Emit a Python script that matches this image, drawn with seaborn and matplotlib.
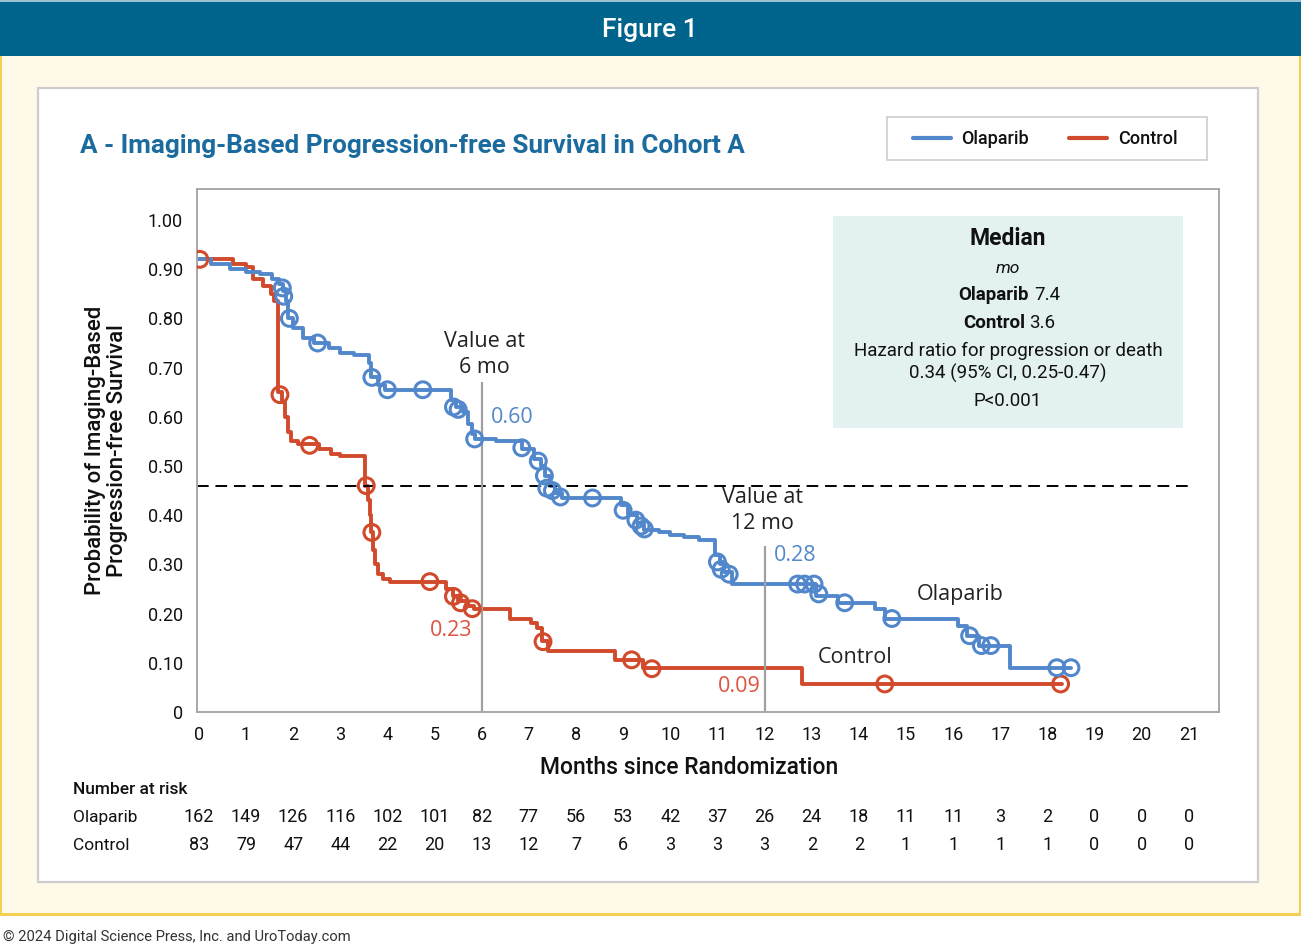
import matplotlib
matplotlib.use('Agg')
import matplotlib.pyplot as plt
import matplotlib.transforms as mtransforms
from matplotlib.patches import Rectangle
from matplotlib.lines import Line2D
import pandas as pd
import seaborn as sns

# ---- data ----
months = list(range(22))
y_ticks = [0, 0.1, 0.2, 0.3, 0.4, 0.5, 0.6, 0.7, 0.8, 0.9, 1.0]
y_tick_labels = ['0', '0.10', '0.20', '0.30', '0.40', '0.50', '0.60', '0.70', '0.80', '0.90', '1.00']

# Kaplan-Meier steps (time, survival after the step)
olaparib_t = [0, 0.25, 0.65, 1.0, 1.3, 1.55, 1.7, 1.78, 1.85, 1.9, 2.0, 2.2, 2.45, 2.75, 3.0, 3.3,
              3.6, 3.65, 3.8, 3.95, 5.35, 5.45, 5.6, 5.7, 5.8, 5.85, 6.3, 6.85, 7.1, 7.25, 7.35,
              7.45, 7.55, 7.7, 8.95, 9.1, 9.3, 9.45, 9.75, 10.0, 10.3, 10.6, 10.95, 11.05, 11.15,
              11.3, 13.1, 13.55, 14.35, 14.55, 16.1, 16.3, 16.55, 17.2, 18.5]
olaparib_s = [0.92, 0.91, 0.90, 0.895, 0.89, 0.88, 0.87, 0.855, 0.835, 0.80, 0.78, 0.76, 0.75, 0.74,
              0.73, 0.725, 0.71, 0.68, 0.665, 0.655, 0.635, 0.62, 0.61, 0.585, 0.565, 0.555, 0.55,
              0.535, 0.515, 0.50, 0.48, 0.46, 0.445, 0.435, 0.42, 0.40, 0.385, 0.37, 0.365, 0.36,
              0.355, 0.35, 0.32, 0.30, 0.285, 0.26, 0.235, 0.222, 0.21, 0.19, 0.175, 0.155, 0.135,
              0.09, 0.09]
olaparib_cens_t = [1.77, 1.80, 1.92, 2.52, 3.67, 4.0, 4.75, 5.4, 5.5, 5.85, 6.85, 7.2, 7.33, 7.38,
                   7.5, 7.67, 8.35, 9.0, 9.27, 9.38, 9.45, 11.0, 11.08, 11.25, 12.7, 12.85, 13.05,
                   13.15, 13.7, 14.7, 16.35, 16.6, 16.8, 18.2, 18.5]
olaparib_cens_s = [0.862, 0.845, 0.80, 0.75, 0.68, 0.655, 0.655, 0.62, 0.615, 0.555, 0.537, 0.51,
                   0.48, 0.455, 0.45, 0.437, 0.435, 0.41, 0.39, 0.378, 0.372, 0.305, 0.29, 0.28,
                   0.26, 0.26, 0.26, 0.24, 0.222, 0.19, 0.155, 0.135, 0.135, 0.09, 0.09]

control_t = [0, 0.72, 1.0, 1.15, 1.35, 1.52, 1.6, 1.68, 1.76, 1.82, 1.88, 1.95, 2.1, 2.55, 2.8,
             3.0, 3.52, 3.58, 3.63, 3.66, 3.7, 3.74, 3.8, 3.9, 4.05, 5.25, 5.4, 5.5, 5.7, 5.83,
             6.6, 7.05, 7.17, 7.28, 7.4, 8.83, 9.42, 12.79, 18.3]
control_s = [0.92, 0.91, 0.905, 0.88, 0.865, 0.85, 0.835, 0.65, 0.63, 0.60, 0.57, 0.55, 0.545,
             0.535, 0.525, 0.52, 0.46, 0.43, 0.40, 0.365, 0.33, 0.30, 0.28, 0.27, 0.265, 0.25,
             0.235, 0.225, 0.215, 0.21, 0.19, 0.18, 0.17, 0.145, 0.124, 0.106, 0.089, 0.057, 0.057]
control_cens_t = [0.02, 1.72, 2.35, 3.55, 3.67, 4.9, 5.4, 5.55, 5.8, 7.3, 9.18, 9.61, 14.55, 18.28]
control_cens_s = [0.92, 0.645, 0.542, 0.46, 0.365, 0.265, 0.235, 0.222, 0.21, 0.143, 0.106,
                  0.088, 0.057, 0.057]

median_line = 0.46
landmarks = [6, 12]
landmark_tops = [0.67, 0.337]

risk_olaparib = [162, 149, 126, 116, 102, 101, 82, 77, 56, 53, 42, 37, 26, 24, 18, 11, 11, 3, 2, 0, 0, 0]
risk_control = [83, 79, 47, 44, 22, 20, 13, 12, 7, 6, 3, 3, 3, 2, 2, 1, 1, 1, 1, 0, 0, 0]

BLUE = '#5288CB'
RED = '#D04A2B'
TITLE_BLUE = '#1B6B9E'

sns.set_style('white')
plt.rcParams['font.family'] = ['Roboto', 'DejaVu Sans']

fig = plt.figure(figsize=(13.01, 9.47), dpi=100)

# background in pixel coordinates
bg = fig.add_axes([0, 0, 1, 1], zorder=-1)
bg.set_xlim(0, 1301)
bg.set_ylim(947, 0)
bg.axis('off')
bg.add_patch(Rectangle((0, 56), 1301, 860, facecolor='#FFF9EA', edgecolor='none'))
bg.add_patch(Rectangle((0, 56), 2, 860, facecolor='#F7CF4F', edgecolor='none'))
bg.add_patch(Rectangle((1299, 56), 2, 860, facecolor='#F7CF4F', edgecolor='none'))
bg.add_patch(Rectangle((0, 913), 1301, 3, facecolor='#F7CF4F', edgecolor='none'))
bg.add_patch(Rectangle((0, 0), 1301, 56, facecolor='#00648C', edgecolor='none'))
bg.add_patch(Rectangle((0, 0), 1301, 2, facecolor='#9CC1D3', edgecolor='none'))
bg.add_patch(Rectangle((38, 88), 1220, 794, facecolor='white', edgecolor='#CDCDCD', lw=1.6))
bg.text(650, 30, 'Figure 1', color='white', fontsize=19, ha='center', va='center', fontweight='medium')
bg.text(80, 146, 'A - Imaging-Based Progression-free Survival in Cohort A', color=TITLE_BLUE,
        fontsize=18.8, ha='left', va='center', fontweight='semibold')
bg.text(3, 937, '\u00a9 2024 Digital Science Press, Inc. and UroToday.com', color='#333333',
        fontsize=10.6, ha='left', va='center')

# legend frame
bg.add_patch(Rectangle((887, 117), 320, 43, facecolor='white', edgecolor='#CDCDCD', lw=1.2))

# median box
bg.add_patch(Rectangle((833, 216), 350, 212, facecolor='#E3F1F1', edgecolor='none'))
bg.text(1008, 238, 'Median', fontsize=16.5, fontweight='bold', ha='center', va='center', color='#111111')
bg.text(1008, 268, 'mo', fontsize=12.5, style='italic', ha='center', va='center', color='#111111')
bg.text(1029, 295, 'Olaparib', fontsize=13.5, fontweight='bold', ha='right', va='center', color='#111111')
bg.text(1034, 295, '7.4', fontsize=13.5, ha='left', va='center', color='#111111')
bg.text(1025, 323, 'Control', fontsize=13.5, fontweight='bold', ha='right', va='center', color='#111111')
bg.text(1029, 323, '3.6', fontsize=13.5, ha='left', va='center', color='#111111')
bg.text(1008, 351, 'Hazard ratio for progression or death', fontsize=13.5, ha='center', va='center', color='#111111')
bg.text(1008, 373, '0.34 (95% CI, 0.25-0.47)', fontsize=13.5, ha='center', va='center', color='#111111')
bg.text(1008, 401, 'P<0.001', fontsize=13.5, ha='center', va='center', color='#111111')

# main plot
ax = fig.add_axes([197 / 1301, 1 - 712 / 947, 1022 / 1301, 523 / 947])
ax.set_facecolor('none')

curves = pd.concat([
    pd.DataFrame({'month': control_t, 'survival': control_s, 'arm': 'Control'}),
    pd.DataFrame({'month': olaparib_t, 'survival': olaparib_s, 'arm': 'Olaparib'}),
])
sns.lineplot(data=curves, x='month', y='survival', hue='arm',
             palette={'Olaparib': BLUE, 'Control': RED}, drawstyle='steps-post',
             estimator=None, sort=False, lw=2.8, legend=False, ax=ax)
sns.scatterplot(x=control_cens_t, y=control_cens_s, color=RED, facecolors='none', edgecolor=RED,
                s=130, linewidth=2.2, ax=ax, zorder=3)
sns.scatterplot(x=olaparib_cens_t, y=olaparib_cens_s, color=BLUE, facecolors='none', edgecolor=BLUE,
                s=130, linewidth=2.2, ax=ax, zorder=3)

ax.axhline(median_line, xmin=0, xmax=0.972, color='black', lw=1.4, ls=(0, (6, 3.5)))
ax.vlines(landmarks, 0, landmark_tops, color='#A0A0A0', lw=1.6)

ax.set_xlim(-0.04, 21.64)
ax.set_ylim(0, 1.063)
ax.set_xticks(months)
ax.set_xticklabels([str(m) for m in months])
ax.set_yticks(y_ticks)
ax.set_yticklabels(y_tick_labels)
ax.tick_params(axis='both', direction='out', length=5, width=1, color='#9A9A9A',
               labelsize=13, labelcolor='#111111', pad=5)
ax.tick_params(axis='x', pad=5)
for s in ax.spines.values():
    s.set_color('#A8A8A8')
    s.set_linewidth(1.4)
ax.grid(False)

ax.set_xlabel('Months since Randomization', fontsize=16.5, fontweight='medium', color='#111111')
ax.xaxis.set_label_coords(0.482, -0.085)
ax.set_ylabel('Probability of Imaging-Based\nProgression-free Survival', fontsize=16,
              fontweight='medium', color='#111111', linespacing=1.05)
ax.yaxis.set_label_coords(-0.068, 0.5)

ann = dict(family=['Open Sans', 'DejaVu Sans'], fontsize=15.5, ha='center', va='center')
ax.text(6.05, 0.726, 'Value at\n6 mo', color='#222222', linespacing=1.3, **ann)
ax.text(11.96, 0.41, 'Value at\n12 mo', color='#222222', linespacing=1.3, **ann)
ax.text(6.64, 0.598, '0.60', color=BLUE, **ann)
ax.text(5.35, 0.165, '0.23', color='#E0523F', **ann)
ax.text(12.64, 0.319, '0.28', color=BLUE, **ann)
ax.text(11.46, 0.051, '0.09', color='#E0523F', **ann)
ax.text(16.14, 0.238, 'Olaparib', color='#222222', **ann)
ax.text(13.92, 0.11, 'Control', color='#222222', **ann)

# legend
handles = [Line2D([], [], color=BLUE, lw=3), Line2D([], [], color=RED, lw=3)]
leg = ax.legend(handles, ['Olaparib', 'Control'], loc='center', bbox_to_anchor=(1045, 139),
                bbox_transform=bg.transData, ncol=2, frameon=False, fontsize=13,
                handlelength=2.1, handletextpad=0.6, columnspacing=2.2)
for t in leg.get_texts():
    t.set_fontweight('medium')
    t.set_color('#111111')

# number at risk table
tr = mtransforms.blended_transform_factory(ax.transData, bg.transData)
bg.text(73, 789, 'Number at risk', fontsize=12.5, fontweight='medium', ha='left', va='center', color='#111111')
bg.text(73, 817, 'Olaparib', fontsize=12.5, ha='left', va='center', color='#111111')
bg.text(73, 845, 'Control', fontsize=12.5, ha='left', va='center', color='#111111')
for m, a, b in zip(months, risk_olaparib, risk_control):
    ax.text(m, 817, str(a), transform=tr, fontsize=13, ha='center', va='center', color='#111111')
    ax.text(m, 845, str(b), transform=tr, fontsize=13, ha='center', va='center', color='#111111')

fig.savefig('out.png', dpi=100)
